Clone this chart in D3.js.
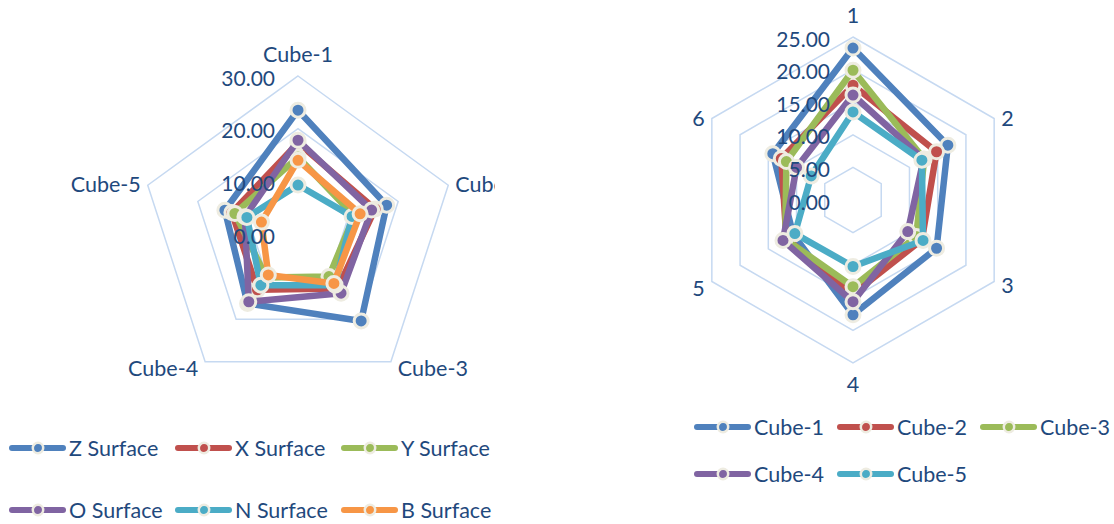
<!DOCTYPE html>
<html>
<head>
<meta charset="utf-8">
<script src="https://cdn.jsdelivr.net/npm/d3@7/dist/d3.min.js"></script>
<style>
  html, body { margin: 0; padding: 0; background: #ffffff; }
  svg { display: block; }
  text { font-family: Lato, "Open Sans", sans-serif; fill: #1f497d; }
</style>
</head>
<body>
<svg id="chart" width="1114" height="524"></svg>
<script>
// ---- Surface chart (left): five cubes, six surfaces ----
const surfaceCategories = ["Cube-1", "Cube-2", "Cube-3", "Cube-4", "Cube-5"];
const surfaceNames = ["Z Surface", "X Surface", "Y Surface", "O Surface", "N Surface", "B Surface"];
const zSurface = [23.5, 17.7, 20.4, 16.3, 14.6];
const xSurface = [17.3, 15.4, 12.8, 13.1, 13.2];
const ySurface = [14.6, 11.2, 10.0, 10.2, 12.6];
const oSurface = [17.8, 14.7, 13.9, 15.9, 10.6];
const nSurface = [9.3, 10.8, 12.0, 12.0, 10.2];
const bSurface = [14.0, 12.4, 11.6, 9.6, 7.3];
const surfaceTicks = [0, 10, 20, 30];

// ---- Cube chart (right): six faces, five cubes ----
const faceCategories = ["1", "2", "3", "4", "5", "6"];
const cubeNames = ["Cube-1", "Cube-2", "Cube-3", "Cube-4", "Cube-5"];
const cube1 = [23.3, 16.8, 14.8, 17.6, 10.6, 14.2];
const cube2 = [17.6, 14.8, 12.2, 14.4, 11.8, 12.7];
const cube3 = [19.9, 12.6, 11.2, 13.3, 12.0, 11.8];
const cube4 = [16.1, 12.5, 9.7, 15.6, 12.4, 10.0];
const cube5 = [13.5, 12.2, 12.4, 10.2, 10.3, 7.4];
const faceTicks = [0, 5, 10, 15, 20, 25];

const palette = ["#4f81bd", "#c0504d", "#9bbb59", "#8064a2", "#4bacc6", "#f79646"];
const markerEdge = "#eeece1";
const gridColor = "#c6d9f1";

const svg = d3.select("#chart");
svg.append("rect").attr("width", 1114).attr("height", 524).attr("fill", "#ffffff");

svg.append("defs").append("clipPath").attr("id", "leftClip")
  .append("rect").attr("x", 0).attr("y", 0).attr("width", 495).attr("height", 524);

function radar(parent, opts) {
  const { cx, cy, radius, maxValue, ticks, categories, series } = opts;
  const n = categories.length;
  const r = d3.scaleLinear().domain([0, maxValue]).range([0, radius]);
  const angle = d3.scaleLinear().domain([0, n]).range([0, 2 * Math.PI]);
  const g = parent.append("g").attr("transform", `translate(${cx},${cy})`);

  // polygon gridlines
  const ring = d3.lineRadial().curve(d3.curveLinearClosed);
  g.append("g").selectAll("path").data(ticks.filter(t => t > 0)).join("path")
    .attr("d", t => ring(categories.map((c, i) => [angle(i), r(t)])))
    .attr("fill", "none").attr("stroke", gridColor).attr("stroke-width", 1.5);

  // series polylines with markers
  const line = d3.lineRadial()
    .angle((d, i) => angle(i)).radius(d => r(d)).curve(d3.curveLinearClosed);
  series.forEach((vals, s) => {
    const sg = g.append("g");
    sg.append("path").attr("d", line(vals))
      .attr("fill", "none").attr("stroke", palette[s]).attr("stroke-width", 6.5)
      .attr("stroke-linejoin", "round");
    sg.selectAll("circle").data(vals).join("circle")
      .attr("cx", (d, i) => r(d) * Math.sin(angle(i)))
      .attr("cy", (d, i) => -r(d) * Math.cos(angle(i)))
      .attr("r", 7).attr("fill", palette[s])
      .attr("stroke", markerEdge).attr("stroke-width", 3);
  });

  // value axis labels
  g.append("g").selectAll("text").data(ticks).join("text")
    .attr("x", -23).attr("y", t => -r(t) + 1)
    .attr("text-anchor", "end").attr("dominant-baseline", "central")
    .attr("font-size", 21)
    .text(t => d3.format(".2f")(t));

  // category labels
  g.append("g").selectAll("text").data(categories).join("text")
    .attr("font-size", 21.5)
    .attr("dominant-baseline", "central")
    .each(function (c, i) {
      const a = angle(i);
      const sx = Math.sin(a), dy = -Math.cos(a);
      const vx = radius * sx, vy = radius * dy;
      const t = d3.select(this);
      if (Math.abs(sx) < 0.01) {
        t.attr("text-anchor", "middle").attr("x", vx)
          .attr("y", dy < 0 ? vy - 22 : vy + 21);
      } else {
        t.attr("text-anchor", sx > 0 ? "start" : "end")
          .attr("x", vx + (sx > 0 ? 7 : -7))
          .attr("y", vy + (dy > 0.5 ? 6 : dy > 0 ? 3 : -1));
      }
    })
    .text(c => c);
  return g;
}

// left chart, clipped at its plot edge
radar(svg.append("g").attr("clip-path", "url(#leftClip)"), {
  cx: 298, cy: 234, radius: 158, maxValue: 30, ticks: surfaceTicks,
  categories: surfaceCategories,
  series: [zSurface, xSurface, ySurface, oSurface, nSurface, bSurface]
});

// right chart
radar(svg, {
  cx: 853, cy: 200, radius: 163, maxValue: 25, ticks: faceTicks,
  categories: faceCategories,
  series: [cube1, cube2, cube3, cube4, cube5]
});

// legends
function legend(names, x0, y0, colX, rowH, perRow) {
  const lg = svg.append("g");
  names.forEach((name, i) => {
    const x = x0 + (i % perRow) * colX;
    const y = y0 + Math.floor(i / perRow) * rowH;
    const item = lg.append("g").attr("transform", `translate(${x},${y})`);
    item.append("line").attr("x1", 3).attr("x2", 54).attr("y1", 0).attr("y2", 0)
      .attr("stroke", palette[i]).attr("stroke-width", 6).attr("stroke-linecap", "round");
    item.append("circle").attr("cx", 29).attr("cy", 0).attr("r", 5.2)
      .attr("fill", palette[i]).attr("stroke", markerEdge).attr("stroke-width", 2.5);
    item.append("text").attr("x", 60).attr("y", 0).attr("dominant-baseline", "central")
      .attr("font-size", 21.5).text(name);
  });
}
legend(surfaceNames, 9, 448, 166, 62, 3);
legend(cubeNames, 694, 427, 143, 47, 3);
</script>
</body>
</html>
